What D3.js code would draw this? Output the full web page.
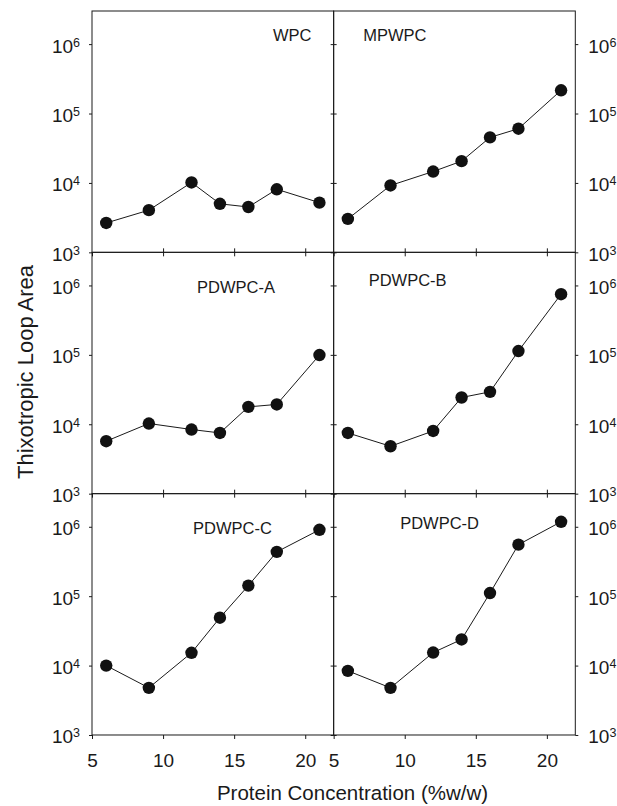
<!DOCTYPE html>
<html>
<head>
<meta charset="utf-8">
<script src="https://cdn.jsdelivr.net/npm/d3@7"></script>
<style>
    body { margin: 0; background: #fff; }
    svg { display: block; font-family: "Liberation Sans", Arial, sans-serif; }
    .tick text { fill: #1a1a1a; }
</style>
</head>
<body>
<svg id="chart" width="617" height="806"></svg>
<script>
(function () {
    'use strict';

    // protein concentration (%w/w), same for every panel
    var conc = [6, 9, 12, 14, 16, 18, 21];

    // thixotropic loop area
    var wpc = [2650, 4050, 10150, 5000, 4500, 8100, 5200];
    var mpwpc = [3030, 9200, 14600, 20600, 45300, 60400, 216000];
    var pdwpcA = [5700, 10250, 8400, 7500, 17800, 19300, 99300];
    var pdwpcB = [7500, 4820, 8000, 24300, 29300, 113500, 748000];
    var pdwpcC = [10000, 4780, 15300, 49000, 142000, 435000, 904000];
    var pdwpcD = [8400, 4780, 15400, 23800, 111000, 553000, 1180000];

    var panelNames = ['WPC', 'MPWPC', 'PDWPC-A', 'PDWPC-B', 'PDWPC-C', 'PDWPC-D'];
    var panelValues = [wpc, mpwpc, pdwpcA, pdwpcB, pdwpcC, pdwpcD];

    var xTicks = [5, 10, 15, 20];
    var yTicks = [1e3, 1e4, 1e5, 1e6];
    var xDomain = [5, 22];
    var yDomain = [1e3, 3e6];

    // label offsets inside each panel (x from left, y baseline from top)
    var labelPos = [[181, 30], [29.5, 30], [105, 41], [35, 33.5], [101, 40], [66.5, 35]];

    var left = 92,
        top = 11,
        panelW = 241.65,
        panelH = 241.33,
        ink = '#1a1a1a';

    var svg = d3.select('#chart');

    var x = d3.scaleLinear().domain(xDomain).range([0, panelW]);
    var y = d3.scaleLog().domain(yDomain).range([panelH, 0]);

    function supLabels(sel) {
        sel.selectAll('text').each(function (d) {
            var t = d3.select(this),
                e = Math.round(Math.log10(d));
            t.text(null).attr('dy', 8);
            t.append('tspan').text('10');
            t.append('tspan').attr('dy', -6).style('font-size', '12.5px').text(e);
        });
    }

    function cleanAxis(g) {
        g.select('.domain').remove();
        g.selectAll('.tick line').attr('stroke', ink);
    }

    panelNames.forEach(function (name, i) {
        var col = i % 2,
            row = Math.floor(i / 2),
            g = svg.append('g')
                .attr('transform', 'translate(' + (left + col * panelW) + ',' + (top + row * panelH) + ')');

        // y axis, left side
        var ya = g.append('g')
            .call(d3.axisLeft(y).tickValues(yTicks).tickSize(3).tickSizeOuter(0).tickPadding(9))
            .style('font-size', '19px');
        cleanAxis(ya);
        if (col === 0) {
            supLabels(ya);
        } else {
            ya.selectAll('text').remove();
        }

        // y axis, right side
        var yb = g.append('g')
            .attr('transform', 'translate(' + panelW + ',0)')
            .call(d3.axisRight(y).tickValues(yTicks).tickSize(3).tickSizeOuter(0).tickPadding(10))
            .style('font-size', '19px');
        cleanAxis(yb);
        if (col === 1) {
            supLabels(yb);
        } else {
            yb.selectAll('text').remove();
        }

        // x axis, bottom
        var xa = g.append('g')
            .attr('transform', 'translate(0,' + panelH + ')')
            .call(d3.axisBottom(x).tickValues(xTicks).tickSize(4).tickSizeOuter(0).tickPadding(14.5))
            .style('font-size', '19px');
        cleanAxis(xa);
        if (row < 2) {
            xa.selectAll('text').remove();
        } else {
            xa.selectAll('text').attr('fill', ink);
        }

        // x ticks on top edge for lower rows
        if (row > 0) {
            var xt = g.append('g')
                .call(d3.axisTop(x).tickValues(xTicks.slice(1)).tickSize(4).tickSizeOuter(0));
            cleanAxis(xt);
            xt.selectAll('text').remove();
        }

        g.append('rect')
            .attr('width', panelW)
            .attr('height', panelH)
            .attr('fill', 'none')
            .attr('stroke', ink)
            .attr('stroke-width', 1);

        var pts = conc.map(function (c, k) { return [c, panelValues[i][k]]; });

        g.append('path')
            .datum(pts)
            .attr('fill', 'none')
            .attr('stroke', ink)
            .attr('stroke-width', 1)
            .attr('d', d3.line()
                .x(function (d) { return x(d[0]); })
                .y(function (d) { return y(d[1]); }));

        g.selectAll('circle')
            .data(pts)
            .enter().append('circle')
            .attr('cx', function (d) { return x(d[0]); })
            .attr('cy', function (d) { return y(d[1]); })
            .attr('r', 6.2)
            .attr('fill', '#111');

        g.append('text')
            .attr('x', labelPos[i][0])
            .attr('y', labelPos[i][1])
            .attr('fill', ink)
            .style('font-size', '16.5px')
            .text(name);
    });

    svg.append('text')
        .attr('x', 352.5)
        .attr('y', 800)
        .attr('text-anchor', 'middle')
        .attr('fill', ink)
        .style('font-size', '20.5px')
        .text('Protein Concentration (%w/w)');

    svg.append('text')
        .attr('transform', 'translate(32.5,372) rotate(-90)')
        .attr('text-anchor', 'middle')
        .attr('fill', ink)
        .style('font-size', '22px')
        .text('Thixotropic Loop Area');
})();
</script>
</body>
</html>
